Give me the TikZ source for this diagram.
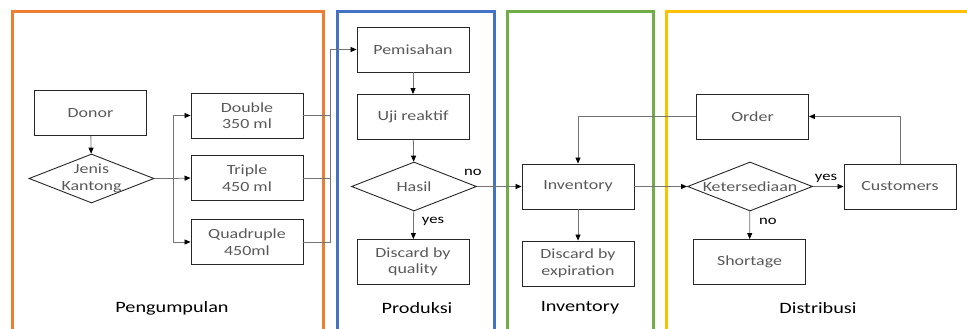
\documentclass[tikz,border=0pt]{standalone}
\usepackage{fontspec}
\setmainfont{Carlito}[FakeStretch=1.28]
\usetikzlibrary{arrows.meta,positioning,shapes.geometric}
\definecolor{frmOrange}{HTML}{ED7D31}
\definecolor{frmBlue}{HTML}{4472C4}
\definecolor{frmGreen}{HTML}{70AD47}
\definecolor{frmYellow}{HTML}{FFC000}
\definecolor{txtGrey}{HTML}{595959}
\tikzset{
  blk/.style  ={rectangle,draw=black!85,line width=0.9pt,minimum width=112pt,
                minimum height=45pt,inner sep=2pt,align=center,text=txtGrey,
                font=\fontsize{14}{16.5}\selectfont},
  dec/.style  ={diamond,draw=black!85,line width=0.9pt,minimum width=125pt,
                minimum height=49pt,inner sep=0pt,text=txtGrey,
                font=\fontsize{14}{16.5}\selectfont},
  frm/.style  ={line width=3pt},
  ln/.style   ={draw=black!55,line width=0.8pt},
  arr/.style  ={ln,-{Triangle[length=6pt,width=5pt,color=black]}},
  ttl/.style  ={font=\fontsize{15.8}{18}\selectfont,text=black},
  ann/.style  ={font=\fontsize{13}{15}\selectfont,inner sep=1pt,text=black},
}

\begin{document}
\begin{tikzpicture}[x=1pt, y=-1pt]
\useasboundingbox (0,0) rectangle (967,329);

%% ---------------- frames ----------------
\draw[frm,draw=frmOrange] (12,12) rectangle (323,345);
\draw[frm,draw=frmBlue]   (337,12) rectangle (494,345);
\draw[frm,draw=frmGreen]  (507,12) rectangle (653,345);
\draw[frm,draw=frmYellow] (666,12) rectangle (980,345);

\node[ttl] (tpeng) at (172,308) {Pengumpulan};
\node[ttl] (tprod) at (417,308) {Produksi};
\node[ttl] (tinv)  at (580,308) {Inventory};
\node[ttl] (tdist) at (818,308) {Distribusi};

%% ---------------- pengumpulan ----------------
\node[blk] (donor) at (90.5,113) {Donor};
\node[dec] (jenis) at (91.5,178.5)
  {\makebox[0pt]{\begin{tabular}{@{}c@{}}Jenis\\Kantong\end{tabular}}};
\node[blk] (dbl)  at (247,115.5) {Double\\350 ml};
\node[blk] (trp)  at (247,178)   {Triple\\450 ml};
\node[blk] (quad) at (247,242)   {Quadruple\\450ml};

%% ---------------- produksi ----------------
\node[blk] (pem)  at (413,49.5) {Pemisahan};
\node[blk] (uji)  at (413,117)  {Uji reaktif};
\node[dec] (hasil) at (414,186.5) {\makebox[0pt]{Hasil}};
\node[blk] (dq)   at (413,262)  {Discard by\\quality};

%% ---------------- inventory ----------------
\node[blk] (inv)  at (578,186.5) {Inventory};
\node[blk] (dexp) at (578,263.5) {Discard by\\expiration};

%% ---------------- distribusi ----------------
\node[blk] (order) at (752.5,116.5) {Order};
\node[dec] (ket)   at (750,186.5)   {\makebox[0pt]{Ketersediaan}};
\node[blk] (cust)  at (900,186.5)   {Customers};
\node[blk] (short) at (749.5,262)   {Shortage};

%% ---------------- edges ----------------
\coordinate (split) at (173,178.5);
\coordinate (bus)   at (330,49.5);

\draw[arr] (donor) -- (jenis);
\draw[ln]  (jenis.east) -- (split);
\draw[arr] (split) |- (dbl.west);
\draw[arr] (split) -- (trp.west);
\draw[arr] (split) |- (quad.west);

%% bags gather on one bus into Pemisahan
\draw[ln]  (dbl.east) -| (bus);
\draw[ln]  (trp.east) -| (bus);
\draw[ln]  (quad.east) -| (bus);
\draw[arr] (bus) -- (pem.west);

\draw[arr] (pem) -- (uji);
\draw[arr] (uji) -- (hasil);
\draw[arr] (hasil) -- (dq);
\draw[arr] (hasil.east) -- (inv.west);
\node[ann] (hno)  at (473,172) {no};
\node[ann] (hyes) at (433,221) {yes};

\draw[arr] (inv) -- (dexp);
\draw[arr] (inv.east) -- (ket.west);

\draw[arr] (ket.east) -- (cust.west);
\draw[arr] (ket) -- (short);
\node[ann] (kyes) at (826,178) {yes};
\node[ann] (kno)  at (768,221) {no};

%% order loop back to inventory
\draw[arr] (cust.north) |- (order.east);
\draw[arr] (order.west) -| (inv.north);

\end{tikzpicture}
\end{document}
